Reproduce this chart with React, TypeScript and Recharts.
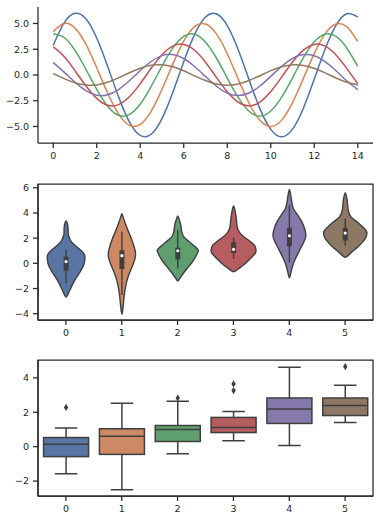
import React from 'react';
import { LineChart, Line, BarChart, Bar, XAxis, YAxis, ReferenceArea } from 'recharts';

// ---- panel 1: offset sine waves ----
const sineX = [0, 0.5, 1, 1.5, 2, 2.5, 3, 3.5, 4, 4.5, 5, 5.5, 6, 6.5, 7, 7.5, 8, 8.5, 9, 9.5, 10, 10.5, 11, 11.5, 12, 12.5, 13, 13.5, 14];
const wave1 = [2.88, 5.05, 5.99, 5.46, 3.59, 0.85, -2.1, -4.54, -5.87, -5.75, -4.23, -1.68, 1.29, 3.94, 5.63, 5.94, 4.79, 2.47, -0.45, -3.26, -5.28, -6.0, -5.25, -3.22, -0.4, 2.52, 4.82, 5.94, 5.61];
const wave2 = [4.21, 4.99, 4.55, 2.99, 0.71, -1.75, -3.78, -4.89, -4.79, -3.53, -1.4, 1.08, 3.29, 4.69, 4.95, 3.99, 2.06, -0.38, -2.72, -4.4, -5.0, -4.38, -2.68, -0.33, 2.1, 4.02, 4.95, 4.67, 3.25];
const wave3 = [3.99, 3.64, 2.39, 0.56, -1.4, -3.03, -3.91, -3.84, -2.82, -1.12, 0.86, 2.63, 3.75, 3.96, 3.19, 1.65, -0.3, -2.18, -3.52, -4.0, -3.5, -2.15, -0.27, 1.68, 3.22, 3.96, 3.74, 2.6, 0.83];
const wave4 = [2.73, 1.8, 0.42, -1.05, -2.27, -2.93, -2.88, -2.12, -0.84, 0.65, 1.97, 2.81, 2.97, 2.4, 1.24, -0.23, -1.63, -2.64, -3.0, -2.63, -1.61, -0.2, 1.26, 2.41, 2.97, 2.8, 1.95, 0.62, -0.86];
const wave5 = [1.2, 0.28, -0.7, -1.51, -1.96, -1.92, -1.41, -0.56, 0.43, 1.31, 1.88, 1.98, 1.6, 0.82, -0.15, -1.09, -1.76, -2.0, -1.75, -1.07, -0.13, 0.84, 1.61, 1.98, 1.87, 1.3, 0.41, -0.58, -1.42];
const wave6 = [0.14, -0.35, -0.76, -0.98, -0.96, -0.71, -0.28, 0.22, 0.66, 0.94, 0.99, 0.8, 0.41, -0.08, -0.54, -0.88, -1.0, -0.88, -0.54, -0.07, 0.42, 0.8, 0.99, 0.93, 0.65, 0.21, -0.29, -0.71, -0.96];
const sineTicksX = [0, 2, 4, 6, 8, 10, 12, 14];
const sineTicksY = [-5, -2.5, 0, 2.5, 5];

// ---- panels 2 & 3: six groups ----
const categories = ['0', '1', '2', '3', '4', '5'];
const whiskerLow = [-1.58, -2.51, -0.41, 0.35, 0.06, 1.4];
const boxQ1 = [-0.58, -0.45, 0.3, 0.82, 1.35, 1.81];
const boxMedian = [0.14, 0.61, 1.0, 1.11, 2.19, 2.4];
const boxQ3 = [0.53, 1.04, 1.23, 1.7, 2.83, 2.83];
const whiskerHigh = [1.08, 2.52, 2.64, 2.05, 4.62, 3.57];
const outliers = [[2.28], [], [2.83], [3.26, 3.65], [], [4.66]];

// violin outline: levels (top to bottom) and half widths in category units
const violinLevels = [
  [3.36, 3.02, 2.63, 2.23, 1.7, 1.17, 0.78, 0.38, -0.15, -0.67, -1.2, -1.73, -2.26, -2.68],
  [3.94, 3.55, 3.02, 2.49, 1.97, 1.44, 0.91, 0.52, 0.12, -0.41, -0.94, -1.47, -1.99, -2.52, -3.05, -3.58, -4.05],
  [3.76, 3.42, 3.02, 2.49, 2.1, 1.7, 1.31, 1.04, 0.78, 0.38, -0.01, -0.41, -0.81, -1.2, -1.41],
  [4.55, 4.08, 3.55, 3.02, 2.63, 2.23, 1.83, 1.44, 1.04, 0.78, 0.38, -0.01, -0.36, -0.67],
  [5.87, 5.4, 4.87, 4.34, 3.81, 3.29, 2.76, 2.23, 1.83, 1.44, 0.91, 0.38, -0.15, -0.67, -1.15],
  [5.61, 5.13, 4.6, 4.08, 3.68, 3.29, 2.89, 2.49, 2.1, 1.7, 1.31, 0.91, 0.49],
];
const violinWidths = [
  [0, 0.03, 0.036, 0.042, 0.096, 0.227, 0.317, 0.335, 0.311, 0.251, 0.173, 0.108, 0.054, 0],
  [0, 0.03, 0.072, 0.119, 0.167, 0.209, 0.239, 0.239, 0.215, 0.167, 0.119, 0.084, 0.06, 0.042, 0.03, 0.018, 0],
  [0, 0.03, 0.054, 0.072, 0.108, 0.209, 0.311, 0.364, 0.346, 0.299, 0.239, 0.167, 0.096, 0.036, 0],
  [0, 0.03, 0.048, 0.06, 0.084, 0.149, 0.269, 0.37, 0.4, 0.382, 0.299, 0.209, 0.108, 0],
  [0, 0.024, 0.042, 0.072, 0.149, 0.221, 0.269, 0.293, 0.269, 0.227, 0.167, 0.108, 0.06, 0.03, 0],
  [0, 0.03, 0.042, 0.06, 0.102, 0.209, 0.311, 0.382, 0.37, 0.311, 0.227, 0.119, 0],
];
const violinTicksY = [-4, -2, 0, 2, 4, 6];
const boxTicksY = [-2, 0, 2, 4];

const lineColors = ['#4C72B0', '#DD8452', '#55A868', '#C44E52', '#8172B3', '#937860'];
const fillColors = ['#5875A4', '#CC8963', '#5F9E6E', '#B55D60', '#857AAB', '#8D7866'];
const ink = '#262626';
const gray = '#3f3f3f';
const BAR_FRACTION = 0.8;

const sineRows = sineX.map((x, k) => ({
  x, w1: wave1[k], w2: wave2[k], w3: wave3[k], w4: wave4[k], w5: wave5[k], w6: wave6[k],
}));

const violinRows = categories.map((cat, i) => ({
  cat, i,
  range: [violinLevels[i][violinLevels[i].length - 1], violinLevels[i][0]],
}));

const boxRows = categories.map((cat, i) => ({
  cat, i,
  range: [whiskerLow[i], whiskerHigh[i]],
}));

const spine = { stroke: ink, strokeWidth: 1.25 };
const tickStyle = { fill: ink, fontSize: 9.5, fontFamily: 'DejaVu Sans' };
const fmtMinus = (v: number, digits: number) =>
  (v < 0 ? '\u2212' : '') + Math.abs(v).toFixed(digits);

function smoothClosed(pts: number[][]) {
  const n = pts.length;
  let d = `M${pts[0][0]},${pts[0][1]}`;
  for (let i = 0; i < n; i++) {
    const p0 = pts[(i - 1 + n) % n];
    const p1 = pts[i];
    const p2 = pts[(i + 1) % n];
    const p3 = pts[(i + 2) % n];
    const c1x = p1[0] + (p2[0] - p0[0]) / 6;
    const c1y = p1[1] + (p2[1] - p0[1]) / 6;
    const c2x = p2[0] - (p3[0] - p1[0]) / 6;
    const c2y = p2[1] - (p3[1] - p1[1]) / 6;
    d += ` C${c1x},${c1y} ${c2x},${c2y} ${p2[0]},${p2[1]}`;
  }
  return d + 'Z';
}

// maps a data value to a pixel using the bar's own scaled top/height
function valueMapper(props: any) {
  const { y, height, payload } = props;
  const [lo, hi] = payload.range;
  const top = Math.min(y, y + height);
  const h = Math.abs(height);
  return (v: number) => top + ((hi - v) / (hi - lo)) * h;
}

function ViolinShape(props: any) {
  const { x, width, payload } = props;
  const i = payload.i;
  const py = valueMapper(props);
  const cx = x + width / 2;
  const band = width / BAR_FRACTION;
  const lv = violinLevels[i];
  const wd = violinWidths[i];
  const pts: number[][] = [];
  for (let j = 0; j < lv.length; j++) pts.push([cx + wd[j] * band, py(lv[j])]);
  for (let j = lv.length - 2; j >= 1; j--) pts.push([cx - wd[j] * band, py(lv[j])]);
  return (
    <g>
      <path d={smoothClosed(pts)} fill={fillColors[i]} stroke={gray} strokeWidth={1.4} />
      <line x1={cx} x2={cx} y1={py(whiskerLow[i])} y2={py(whiskerHigh[i])} stroke={gray} strokeWidth={1.4} />
      <line x1={cx} x2={cx} y1={py(boxQ1[i])} y2={py(boxQ3[i])} stroke={gray} strokeWidth={5} />
      <circle cx={cx} cy={py(boxMedian[i])} r={1.6} fill="#ffffff" />
    </g>
  );
}

function BoxShape(props: any) {
  const { x, width, payload } = props;
  const i = payload.i;
  const py = valueMapper(props);
  const cx = x + width / 2;
  const capHalf = width / 4;
  const yQ1 = py(boxQ1[i]);
  const yQ3 = py(boxQ3[i]);
  return (
    <g stroke={gray} strokeWidth={1.5}>
      <line x1={cx} x2={cx} y1={yQ3} y2={py(whiskerHigh[i])} />
      <line x1={cx} x2={cx} y1={yQ1} y2={py(whiskerLow[i])} />
      <line x1={cx - capHalf} x2={cx + capHalf} y1={py(whiskerHigh[i])} y2={py(whiskerHigh[i])} />
      <line x1={cx - capHalf} x2={cx + capHalf} y1={py(whiskerLow[i])} y2={py(whiskerLow[i])} />
      <rect x={x} y={yQ3} width={width} height={yQ1 - yQ3} fill={fillColors[i]} />
      <line x1={x} x2={x + width} y1={py(boxMedian[i])} y2={py(boxMedian[i])} />
      {outliers[i].map((o, k) => {
        const oy = py(o);
        return (
          <path key={k} d={`M${cx},${oy - 3.6} L${cx + 2.2},${oy} L${cx},${oy + 3.6} L${cx - 2.2},${oy} Z`}
            fill={gray} stroke="none" />
        );
      })}
    </g>
  );
}

function GroupChart({ rows, domain, ticks, shape }: any) {
  return (
    <BarChart width={380} height={170} data={rows} margin={{ top: 7, right: 7, left: 0, bottom: 0 }}>
      <XAxis dataKey="cat" height={27} tickSize={5} tickMargin={4}
        axisLine={spine} tickLine={spine} tick={tickStyle} />
      <YAxis type="number" domain={domain} ticks={ticks} width={38} tickSize={5} tickMargin={4}
        axisLine={spine} tickLine={spine} tick={tickStyle}
        tickFormatter={(v: number) => fmtMinus(v, 0)} allowDataOverflow />
      <Bar dataKey="range" shape={shape} isAnimationActive={false} />
      {/* full frame: top and right spines */}
      <ReferenceArea y1={domain[0]} y2={domain[1]} fill="none" fillOpacity={0}
        stroke={ink} strokeWidth={1.25} ifOverflow="visible" />
    </BarChart>
  );
}

export default function App() {
  const waves = ['w1', 'w2', 'w3', 'w4', 'w5', 'w6'];
  return (
    <div style={{ position: 'absolute', left: 0, top: 0, width: 380, height: 523, background: '#ffffff' }}>
      <div style={{ position: 'absolute', left: 0, top: 0 }}>
        <LineChart width={380} height={170} data={sineRows} margin={{ top: 7, right: 7, left: 0, bottom: 0 }}>
          <XAxis dataKey="x" type="number" domain={[-0.7, 14.7]} ticks={sineTicksX} height={27}
            tickSize={5} tickMargin={4} axisLine={spine} tickLine={spine} tick={tickStyle} allowDataOverflow />
          <YAxis type="number" domain={[-6.6, 6.6]} ticks={sineTicksY} width={38} tickSize={5} tickMargin={4}
            axisLine={spine} tickLine={spine} tick={tickStyle}
            tickFormatter={(v: number) => fmtMinus(v, 1)} allowDataOverflow />
          {waves.map((key, idx) => (
            <Line key={key} dataKey={key} type="natural" stroke={lineColors[idx]} strokeWidth={1.5}
              dot={false} activeDot={false} isAnimationActive={false} />
          ))}
        </LineChart>
      </div>
      <div style={{ position: 'absolute', left: 0, top: 177 }}>
        <GroupChart rows={violinRows} domain={[-4.5, 6.3]} ticks={violinTicksY} shape={ViolinShape} />
      </div>
      <div style={{ position: 'absolute', left: 0, top: 353 }}>
        <GroupChart rows={boxRows} domain={[-2.87, 5.04]} ticks={boxTicksY} shape={BoxShape} />
      </div>
    </div>
  );
}
